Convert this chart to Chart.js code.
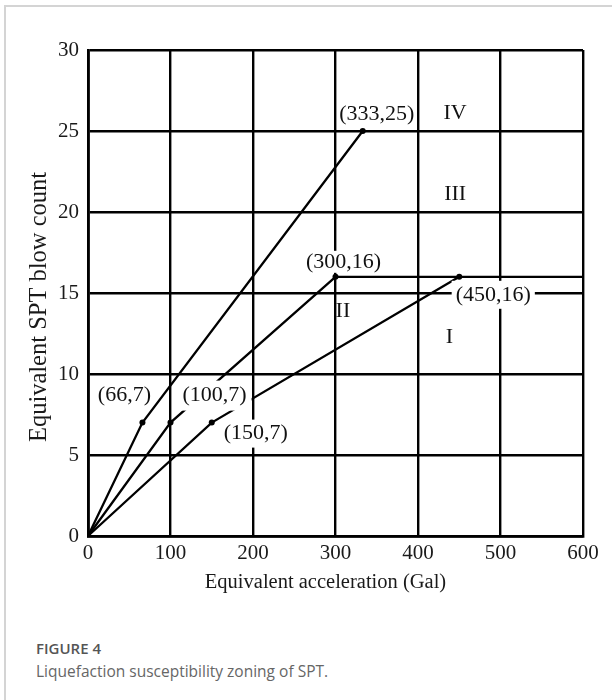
<!DOCTYPE html>
<html>
<head>
<meta charset="utf-8">
<script src="https://cdn.jsdelivr.net/npm/chart.js@4.4.1/dist/chart.umd.min.js"></script>
<style>
  html, body { margin: 0; padding: 0; background: #fff; }
  body { width: 612px; height: 700px; position: relative; overflow: hidden; }
  #card { position: absolute; left: 4px; top: 5px; width: 700px; height: 800px;
          border-left: 2px solid #d4d4d4; border-top: 2px solid #d4d4d4; }
  #plot { position: absolute; left: 0; top: 0; }
  #cap { position: absolute; left: 36px; top: 637px; font-family: "Open Sans", sans-serif; }
  #cap .num { font-size: 15px; font-weight: 600; color: #555; line-height: 22px; }
  #cap .txt { font-size: 15.5px; color: #666; line-height: 24px; }
</style>
</head>
<body>
<div id="card"></div>
<canvas id="plot" width="612" height="620"></canvas>
<div id="cap">
  <div class="num">FIGURE 4</div>
  <div class="txt">Liquefaction susceptibility zoning of SPT.</div>
</div>
<script>
// Axis ticks
const accelTicks = [0, 100, 200, 300, 400, 500, 600];
const blowTicks = [0, 5, 10, 15, 20, 25, 30];

// Zone boundaries: equivalent acceleration (Gal) vs equivalent SPT blow count
const boundIV_accel = [0, 66, 333];
const boundIV_blow  = [0, 7, 25];
const boundII_accel = [0, 100, 300];
const boundII_blow  = [0, 7, 16];
const boundI_accel  = [0, 150, 450];
const boundI_blow   = [0, 7, 16];
const cap16_accel   = [300, 600];
const cap16_blow    = [16, 16];

// Zone names
const zoneNames = ['IV', 'III', 'II', 'I'];

// Axis titles
const xTitle = 'Equivalent acceleration (Gal)';
const yTitle = 'Equivalent SPT blow count';

// Where zone names sit (data units) and how knee labels are offset (pixels)
const zonePlacement = {
  'IV':  [445, 26.1],
  'III': [445, 21.1],
  'II':  [309, 13.9],
  'I':   [438, 12.3]
};
const kneeLabelStyle = {
  '(66,7)':   { dx: -18, dy: -27, mask: false, padX: 0, padY: 0 },
  '(333,25)': { dx: 14,  dy: -17, mask: false, padX: 0, padY: 0 },
  '(100,7)':  { dx: 44,  dy: -27, mask: true,  padX: 5, padY: 4 },
  '(300,16)': { dx: 8,   dy: -15, mask: true,  padX: 3, padY: 0 },
  '(150,7)':  { dx: 44,  dy: 11,  mask: true,  padX: 4, padY: 3 },
  '(450,16)': { dx: 34,  dy: 18,  mask: true,  padX: 4, padY: 3 }
};

const toPoints = (xs, ys) => xs.map((x, i) => ({ x: x, y: ys[i] }));

// knee points (every non-origin vertex of the three boundaries)
const kneePoints = [];
[[boundIV_accel, boundIV_blow], [boundII_accel, boundII_blow], [boundI_accel, boundI_blow]]
  .forEach(([xs, ys]) => xs.forEach((x, i) => { if (i > 0) kneePoints.push({ x: x, y: ys[i] }); }));

function boundary(xs, ys, radii) {
  return {
    data: toPoints(xs, ys),
    showLine: true,
    borderColor: '#000',
    borderWidth: 2.3,
    tension: 0,
    fill: false,
    pointRadius: radii,
    pointBackgroundColor: '#000',
    pointBorderWidth: 0,
    clip: false
  };
}

const serif = '"Liberation Serif", "Times New Roman", serif';

const annotate = {
  id: 'annotate',
  afterDatasetsDraw(chart) {
    const { ctx, scales: { x, y } } = chart;
    ctx.save();
    ctx.textAlign = 'center';
    ctx.textBaseline = 'middle';
    ctx.fillStyle = '#111';
    ctx.font = '22px ' + serif;
    kneePoints.forEach(p => {
      const text = '(' + p.x + ',' + p.y + ')';
      const st = kneeLabelStyle[text];
      const cx = x.getPixelForValue(p.x) + st.dx;
      const cy = y.getPixelForValue(p.y) + st.dy;
      if (st.mask) {
        const w = ctx.measureText(text).width;
        ctx.fillStyle = '#fff';
        ctx.fillRect(cx - w / 2 - st.padX, cy - 11 - st.padY, w + 2 * st.padX, 22 + 2 * st.padY);
        ctx.fillStyle = '#111';
      }
      ctx.fillText(text, cx, cy);
    });
    zoneNames.forEach(n => {
      const [ax, bc] = zonePlacement[n];
      ctx.fillText(n, x.getPixelForValue(ax), y.getPixelForValue(bc));
    });

    // axis titles
    ctx.fillStyle = '#1a1a1a';
    ctx.font = '20.5px ' + serif;
    ctx.fillText(xTitle, (x.left + x.right) / 2 - 10, x.bottom - 37);
    ctx.save();
    ctx.translate(40, (y.top + y.bottom) / 2 + 14);
    ctx.rotate(-Math.PI / 2);
    ctx.font = '24.5px ' + serif;
    ctx.fillText(yTitle, 0, 0);
    ctx.restore();
    ctx.restore();
  }
};

new Chart(document.getElementById('plot'), {
  type: 'scatter',
  data: {
    datasets: [
      boundary(boundIV_accel, boundIV_blow, [0, 3, 3]),
      boundary(boundII_accel, boundII_blow, [0, 3, 3]),
      boundary(boundI_accel, boundI_blow, [0, 3, 3]),
      boundary(cap16_accel, cap16_blow, [0, 0])
    ]
  },
  options: {
    responsive: false,
    animation: false,
    devicePixelRatio: 1,
    layout: { padding: { top: 50, right: 29, left: 0, bottom: 0 } },
    plugins: { legend: { display: false }, tooltip: { enabled: false } },
    scales: {
      x: {
        type: 'linear',
        min: 0, max: 600,
        afterBuildTicks: s => { s.ticks = accelTicks.map(v => ({ value: v })); },
        afterFit: s => { s.height = 84; },
        ticks: { font: { family: serif, size: 21 }, color: '#1a1a1a', padding: 5, maxRotation: 0 },
        grid: { color: '#000', lineWidth: 2.4, drawTicks: false },
        border: { color: '#000', width: 2.8 }
      },
      y: {
        type: 'linear',
        min: 0, max: 30,
        afterBuildTicks: s => { s.ticks = blowTicks.map(v => ({ value: v })); },
        afterFit: s => { s.width = 88; },
        ticks: { font: { family: serif, size: 21 }, color: '#1a1a1a', padding: 9 },
        grid: { color: '#000', lineWidth: 2.4, drawTicks: false },
        border: { color: '#000', width: 2.8 }
      }
    }
  },
  plugins: [annotate]
});
</script>
</body>
</html>
